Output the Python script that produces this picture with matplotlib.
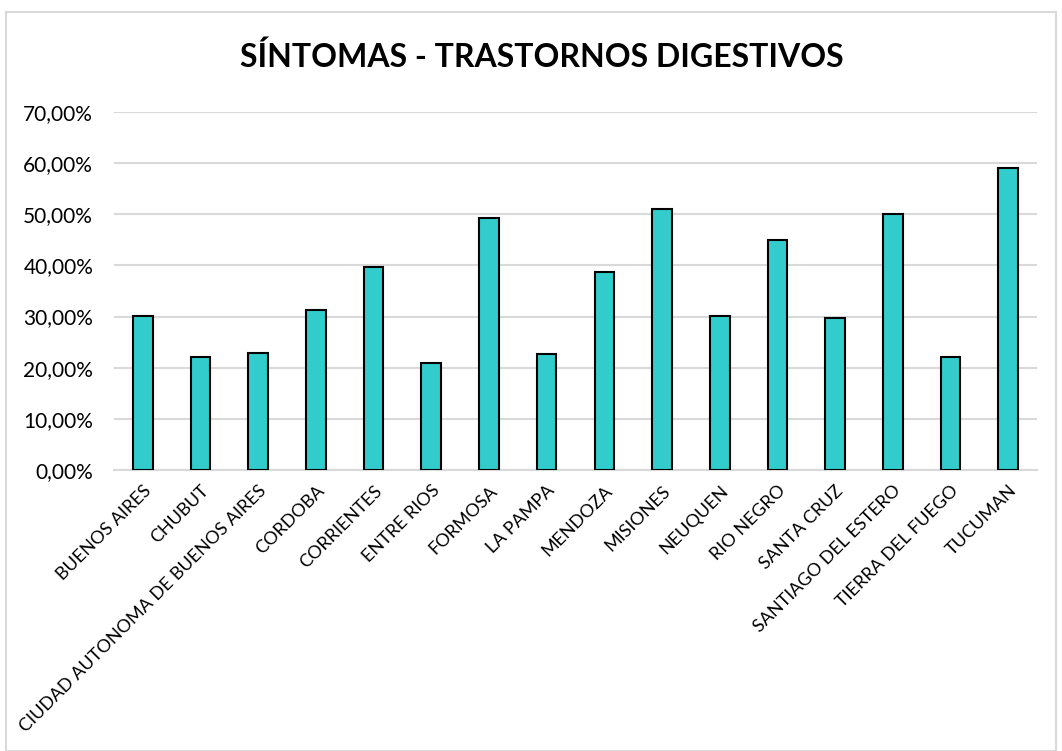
import matplotlib.pyplot as plt
from matplotlib.patches import Rectangle
from matplotlib.ticker import FuncFormatter

provincias = [
    "BUENOS AIRES", "CHUBUT", "CIUDAD AUTONOMA DE BUENOS AIRES", "CORDOBA",
    "CORRIENTES", "ENTRE RIOS", "FORMOSA", "LA PAMPA", "MENDOZA", "MISIONES",
    "NEUQUEN", "RIO NEGRO", "SANTA CRUZ", "SANTIAGO DEL ESTERO",
    "TIERRA DEL FUEGO", "TUCUMAN",
]
porcentajes = [30.1, 22.0, 22.8, 31.3, 39.7, 20.9, 49.3, 22.7,
               38.7, 51.0, 30.1, 45.0, 29.8, 50.0, 22.1, 59.1]
y_ticks = [0, 10, 20, 30, 40, 50, 60, 70]

plt.rcParams["font.family"] = ["Lato", "DejaVu Sans"]

fig = plt.figure(figsize=(10.62, 7.51), dpi=100)
ax = fig.add_axes([114 / 1062, 1 - 470 / 751, (1037 - 114) / 1062, (470 - 112) / 751])

# light frame around the whole chart
fig.patches.append(Rectangle((6 / 1062, 0), 1050 / 1062, 1 - 12 / 751,
                             transform=fig.transFigure, fill=False,
                             edgecolor="#d9d9d9", linewidth=1.5))

x = range(len(provincias))
ax.bar(x, porcentajes, width=0.34, color="#33CCCC", edgecolor="black", linewidth=1.5, zorder=3)

ax.set_xlim(-0.5, len(provincias) - 0.5)
ax.set_ylim(0, 70)
ax.set_yticks(y_ticks)
ax.yaxis.set_major_formatter(FuncFormatter(lambda v, _: f"{v:.2f}%".replace(".", ",")))
ax.grid(axis="y", color="#d9d9d9", linewidth=1.5, zorder=0)
for side in ["top", "right", "left"]:
    ax.spines[side].set_visible(False)
ax.spines["bottom"].set_color("#d9d9d9")
ax.spines["bottom"].set_linewidth(1.5)
ax.tick_params(axis="both", length=0, colors="black")
ax.tick_params(axis="y", pad=15, labelsize=15)

ax.set_xticks(list(x))
ax.set_xticklabels(provincias, rotation=45, ha="right", rotation_mode="anchor", fontsize=13)
ax.tick_params(axis="x", pad=9)

fig.text(542 / 1062, 1 - 57 / 751, "SÍNTOMAS - TRASTORNOS DIGESTIVOS", ha="center", va="center",
         fontsize=23, fontweight="bold")

fig.savefig("out.png", dpi=100)
